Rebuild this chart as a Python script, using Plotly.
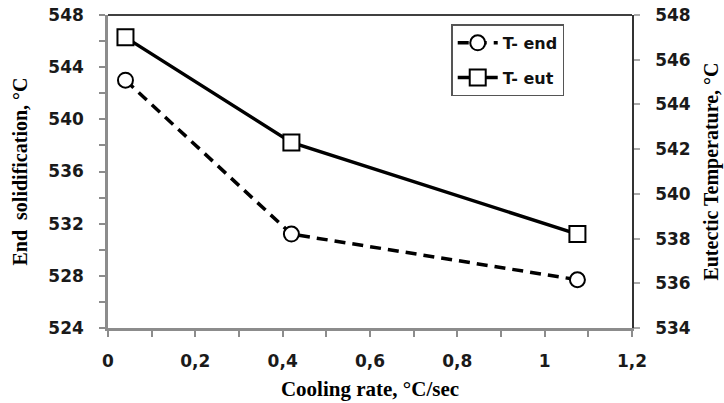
import plotly.graph_objects as go

cooling_rate = [0.04, 0.42, 1.075]
t_end = [543.0, 531.2, 527.7]
t_eut = [547.0, 542.3, 538.2]

x_ticks = [0, 0.2, 0.4, 0.6, 0.8, 1.0, 1.2]
x_labels = ["0", "0,2", "0,4", "0,6", "0,8", "1", "1,2"]
y1_ticks = [524, 528, 532, 536, 540, 544, 548]
y2_ticks = [534, 536, 538, 540, 542, 544, 546, 548]

tick_font = dict(family="DejaVu Sans", size=17, color="#1a1a1a", weight="bold")
title_font_x = dict(family="Liberation Serif", size=21, color="#000000")
title_font_y = dict(family="Liberation Serif", size=20, color="#000000")

fig = go.Figure()
fig.add_trace(go.Scatter(
    x=cooling_rate, y=t_end, name="T- end", mode="lines+markers", legendgroup="a",
    line=dict(color="black", width=3.5, dash="11px,7px"),
    marker=dict(symbol="circle", size=15, color="white", line=dict(color="black", width=2)),
    yaxis="y"))
fig.add_trace(go.Scatter(
    x=cooling_rate, y=t_eut, name="T- eut", mode="lines+markers", legendgroup="b",
    line=dict(color="black", width=3.5),
    marker=dict(symbol="square", size=16, color="white", line=dict(color="black", width=2)),
    yaxis="y2"))

fig.update_layout(
    width=724, height=403,
    margin=dict(l=108, r=92, t=15, b=75, autoexpand=False),
    paper_bgcolor="white", plot_bgcolor="white",
    showlegend=True,
    legend=dict(x=0.655, y=0.97, xanchor="left", yanchor="top",
                bgcolor="white", bordercolor="#555555", borderwidth=1.5,
                font=dict(family="DejaVu Sans", size=16, color="#111111", weight="bold"),
                tracegroupgap=11, itemwidth=40),
    xaxis=dict(range=[0, 1.2], tickvals=x_ticks, ticktext=x_labels, automargin=False,
               showgrid=False, zeroline=False, showline=True, linecolor="#8c8c8c", linewidth=2.5,
               ticks="outside", ticklen=6, tickwidth=2, tickcolor="#8c8c8c",
               minor=dict(dtick=0.1, ticks="outside", ticklen=6, tickwidth=2, tickcolor="#8c8c8c"),
               tickfont=tick_font, ticklabelstandoff=10,
               title=dict(text="<b>Cooling rate, °C/sec</b>", font=title_font_x, standoff=12)),
    yaxis=dict(range=[524, 548], tickvals=y1_ticks, automargin=False,
               showgrid=False, zeroline=False, showline=True, linecolor="#8c8c8c", linewidth=2.5,
               ticks="outside", ticklen=6, tickwidth=2, tickcolor="#8c8c8c",
               minor=dict(dtick=2, ticks="outside", ticklen=6, tickwidth=2, tickcolor="#8c8c8c"),
               tickfont=tick_font, ticklabelstandoff=12,
               title=dict(text="<b>End  solidification, °C</b>", font=title_font_y, standoff=16)),
    yaxis2=dict(range=[534, 548], tickvals=y2_ticks, overlaying="y", side="right", automargin=False,
                showgrid=False, zeroline=False, showline=True, linecolor="#333333", linewidth=1.5,
                ticks="outside", ticklen=6, tickwidth=1.5, tickcolor="#aaaaaa",
                tickfont=tick_font, ticklabelstandoff=12,
                title=dict(text="<b>Eutectic Temperature, °C</b>", font=title_font_y, standoff=14)),
    shapes=[dict(type="line", xref="paper", yref="paper", x0=0, x1=1, y0=1, y1=1,
                 line=dict(color="black", width=1.5))],
)

fig.write_html("out.html")
